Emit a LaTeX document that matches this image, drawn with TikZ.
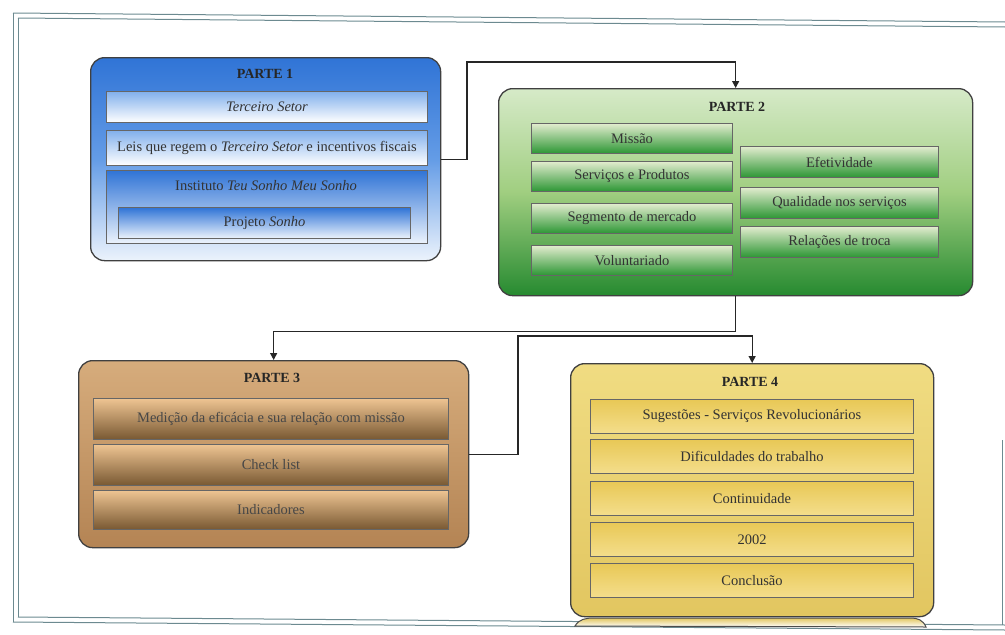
\documentclass[tikz,border=0pt]{standalone}
\usepackage{fontspec}
\setmainfont{Liberation Serif}
\usetikzlibrary{arrows.meta}

\definecolor{blueTop}{RGB}{48,116,214}
\definecolor{blueMid}{RGB}{100,156,230}
\definecolor{blueLite}{RGB}{130,176,236}
\definecolor{blueBot}{RGB}{236,243,252}
\definecolor{greenTop}{RGB}{214,234,200}
\definecolor{greenMid}{RGB}{160,206,128}
\definecolor{greenBot}{RGB}{38,138,48}
\definecolor{gItemTop}{RGB}{226,236,206}
\definecolor{gItemBot}{RGB}{44,150,52}
\definecolor{tanTop}{RGB}{214,172,124}
\definecolor{tanBot}{RGB}{180,132,84}
\definecolor{tItemTop}{RGB}{238,196,146}
\definecolor{tItemBot}{RGB}{120,88,50}
\definecolor{goldTop}{RGB}{240,220,130}
\definecolor{goldBot}{RGB}{226,198,96}
\definecolor{yItemTop}{RGB}{232,200,86}
\definecolor{yItemBot}{RGB}{244,222,140}
\definecolor{frameCol}{RGB}{108,138,144}

\tikzset{
  panel/.style={draw=black!75, line width=1.3pt, rounded corners=14pt,
    inner sep=0pt, anchor=north west},
  item/.style={draw=black!60, line width=1pt, inner sep=0pt, anchor=north west,
    font=\fontsize{14.5}{16}\selectfont, text=black!80},
  title/.style={font=\fontsize{14}{16}\selectfont\bfseries, text=black!85},
  conn/.style={draw=black!85, line width=1.3pt, -{Triangle[width=7pt,length=7pt]}},
  framerule/.style={draw=frameCol, line width=1pt},
}

\begin{document}
\begin{tikzpicture}[x=1pt, y=-1pt]
\useasboundingbox (0,0) rectangle (1005,635);

% double page frame
\draw[framerule] (13,13) -- (1005,22);
\draw[framerule] (18,18) -- (1005,27);
\draw[framerule] (13,13) -- (13,622);
\draw[framerule] (18,18) -- (18,617);
\draw[framerule] (13,622) -- (1005,630);
\draw[framerule] (18,617) -- (1005,625);
\draw[framerule] (1002,440) -- (1002,625);

% ---- PARTE 1 ----
\node[panel, top color=blueTop, bottom color=blueBot, middle color=blueMid,
  minimum width=350pt, minimum height=203pt] (p1) at (90,57) {};
\node[title] (t1) at (265,74) {PARTE 1};
\node[item, top color=blueLite, bottom color=white,
  minimum width=321pt, minimum height=31pt] (a1) at (106,91) {\itshape Terceiro Setor};
\node[item, top color=blueLite, bottom color=white,
  minimum width=321pt, minimum height=35pt] (a2) at (106,130)
  {Leis que regem o \textit{Terceiro Setor} e incentivos fiscais};
\node[item, top color=blueTop, bottom color=blueBot,
  minimum width=321pt, minimum height=73pt] (a3) at (106,170) {};
\node[font=\fontsize{14.5}{16}\selectfont, text=black!80] (a3t) at (266,186)
  {Instituto \textit{Teu Sonho Meu Sonho}};
\node[item, top color=blueTop, bottom color=blueBot,
  minimum width=292pt, minimum height=31pt] (a4) at (118,207) {Projeto \textit{Sonho}};

% ---- PARTE 2 ----
\node[panel, top color=greenTop, bottom color=greenBot, middle color=greenMid,
  minimum width=474pt, minimum height=207pt] (p2) at (498,88) {};
\node[title] (t2) at (737,107) {PARTE 2};
\foreach \n/\y/\txt in {b1/123/Missão, b2/161/Serviços e Produtos,
    b3/203/Segmento de mercado, b4/245/Voluntariado}
  \node[item, top color=gItemTop, bottom color=gItemBot,
    minimum width=201pt, minimum height=30pt] (\n) at (531,\y) {\txt};
\foreach \n/\y/\txt in {c1/146/Efetividade, c2/187/Qualidade nos serviços,
    c3/226/Relações de troca}
  \node[item, top color=gItemTop, bottom color=gItemBot,
    minimum width=198pt, minimum height=31pt] (\n) at (740,\y) {\txt};

% ---- PARTE 3 ----
\node[panel, top color=tanTop, bottom color=tanBot,
  minimum width=390pt, minimum height=187pt] (p3) at (78,360) {};
\node[title] (t3) at (272,378) {PARTE 3};
\foreach \n/\y/\h/\txt in {d1/398/41/Medição da eficácia e sua relação com missão,
    d2/444/41/Check list, d3/490/39/Indicadores}
  \node[item, top color=tItemTop, bottom color=tItemBot, text=black!72,
    minimum width=355pt, minimum height=\h pt] (\n) at (93,\y) {\txt};

% ---- PARTE 4 ----
\node[panel, top color=goldTop, bottom color=goldBot,
  minimum width=363pt, minimum height=253pt] (p4) at (570,363) {};
\node[title] (t4) at (750,382) {PARTE 4};
\foreach \n/\y/\txt in {e1/399/Sugestões - Serviços Revolucionários,
    e2/439/Dificuldades do trabalho, e3/481/Continuidade, e4/522/2002,
    e5/563/Conclusão}
  \node[item, top color=yItemTop, bottom color=yItemBot,
    minimum width=323pt, minimum height=34pt] (\n) at (590,\y) {\txt};

% edge of the next panel peeking out below
\path[draw=black!70, line width=1pt, top color=goldBot, bottom color=white]
  (575,626) .. controls (579,619) and (586,618) .. (594,618) -- (910,618)
  .. controls (918,618) and (923,620) .. (926,627) -- cycle;

% ---- connectors ----
\coordinate (j1) at (467,62);
\coordinate (j3) at (518,336);
\draw[conn] (p1.east) -| (j1) -| (p2.north);
\draw[conn] (p2.south) -- ++(0,35) -| (p3.north);
\draw[conn] (p3.east) -| (j3) -| (p4.north);
\end{tikzpicture}
\end{document}
